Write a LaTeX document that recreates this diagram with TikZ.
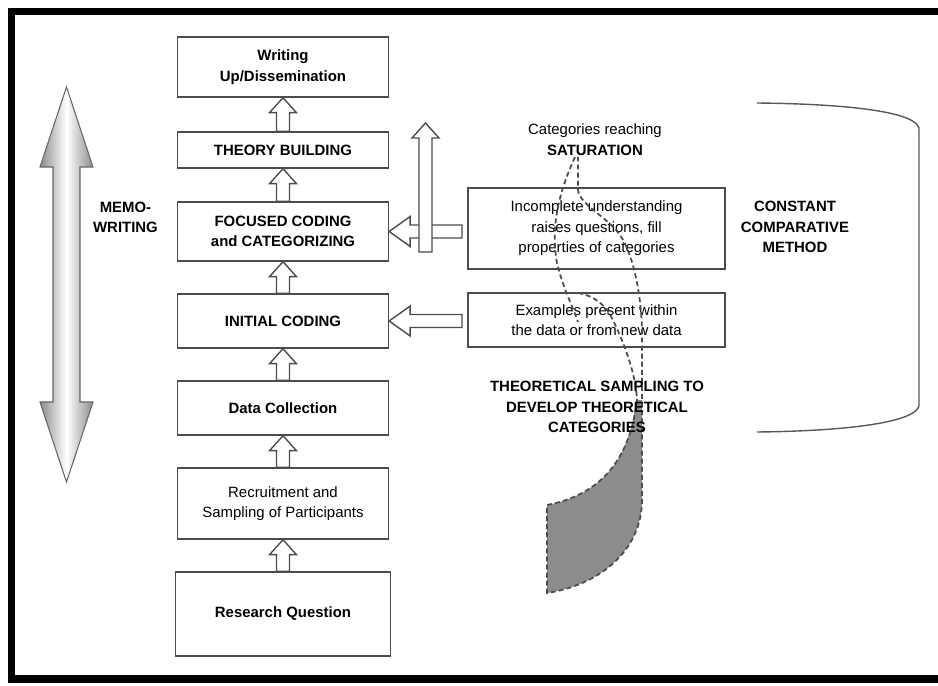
\documentclass[tikz,border=0pt]{standalone}
\usepackage{fontspec}
\setmainfont{Liberation Sans}
\usetikzlibrary{calc}

\newcommand{\boxfont}{\fontsize{8.5}{11.6}\selectfont}

\tikzset{
  stage/.style={draw=black!70, line width=0.8pt, minimum width=4.22cm, align=center, inner sep=2pt, font=\boxfont\bfseries},
  note/.style={align=center, inner sep=1pt, font=\boxfont},
  hollow/.style={draw=black!70, line width=0.8pt, fill=white},
  ribbon/.style={black!70, line width=1pt, dash pattern=on 2.8pt off 1.8pt},
}

% hollow block arrow pointing up, from #1 (foot) to #2 (tip)
\newcommand{\blockup}[2]{%
  \draw[hollow] ($(#1)+(-0.13cm,0cm)$) -- ($(#2)+(-0.13cm,-0.3cm)$) -- ($(#2)+(-0.27cm,-0.3cm)$)
    -- (#2) -- ($(#2)+(0.27cm,-0.3cm)$) -- ($(#2)+(0.13cm,-0.3cm)$) -- ($(#1)+(0.13cm,0cm)$) -- cycle;}
% hollow block arrow pointing left, from #1 (tail) to #2 (tip)
\newcommand{\blockleft}[2]{%
  \draw[hollow] ($(#1)+(0cm,0.13cm)$) -- ($(#2)+(0.42cm,0.13cm)$) -- ($(#2)+(0.42cm,0.3cm)$)
    -- (#2) -- ($(#2)+(0.42cm,-0.3cm)$) -- ($(#2)+(0.42cm,-0.13cm)$) -- ($(#1)+(0cm,-0.13cm)$) -- cycle;}

\begin{document}
\begin{tikzpicture}[x=0.02cm, y=-0.02cm]
    \useasboundingbox (0,0) rectangle (938,686);
    \def\xm{283}     % main column
    \def\xr{596.5}   % right column
    \def\xt{462}     % tails of the side arrows

    % frame
    \draw[line width=4.5pt] (938,11.5) -- (11.5,11.5) -- (11.5,679) -- (938,679);

    % memo-writing double arrow
    \shadedraw[left color=black!45, right color=black!45, middle color=white, draw=black!60, line width=0.6pt]
        (53,402) -- (53,167) -- (40,167) -- (66.5,87) -- (93,167) -- (80,167)
        -- (80,402) -- (93,402) -- (66.5,482) -- (40,402) -- cycle;
    \node[note, font=\boxfont\bfseries] (memo) at (125.5,217.5) {MEMO-\\WRITING};

    % main stages
    \node[stage, minimum height=1.2cm] (write) at (\xm,67) {Writing\\Up/Dissemination};
    \node[stage, minimum height=0.72cm] (theory) at (\xm,150) {THEORY BUILDING};
    \node[stage, minimum height=1.18cm] (focused) at (\xm,231.5) {FOCUSED CODING\\and CATEGORIZING};
    \node[stage, minimum height=1.08cm] (initial) at (\xm,321) {INITIAL CODING};
    \node[stage, minimum height=1.08cm] (collect) at (\xm,408) {Data Collection};
    \node[stage, minimum height=1.42cm, font=\boxfont] (recruit) at (\xm,503.5) {Recruitment and\\Sampling of Participants};
    \node[stage, minimum height=1.68cm, minimum width=4.3cm] (question) at (\xm,614) {Research Question};

    \blockup{theory.north}{write.south}
    \blockup{focused.north}{theory.south}
    \blockup{initial.north}{focused.south}
    \blockup{collect.north}{initial.south}
    \blockup{recruit.north}{collect.south}
    \blockup{question.north}{recruit.south}

    % right column
    \node[stage, font=\boxfont, minimum width=5.14cm, minimum height=1.62cm] (incomplete) at (\xr,228.5)
        {Incomplete understanding\\raises questions, fill\\properties of categories};
    \node[stage, font=\boxfont, minimum width=5.14cm, minimum height=1.08cm] (examples) at (\xr,320)
        {Examples present within\\the data or from new data};

    \coordinate (fc-tail) at (\xt,231.5);
    \coordinate (ic-tail) at (\xt,321);
    \blockleft{fc-tail}{focused.east}
    \blockleft{ic-tail}{initial.east}

    \coordinate (tb-foot) at (425.5,252);
    \coordinate (tb-tip) at (425.5,123);
    \blockup{tb-foot}{tb-tip}

    % constant comparative method bracket
    \draw[black!65, line width=0.8pt] (757,103) .. controls (850,104) and (915,112) .. (919,128)
        -- (919,406) .. controls (915,422) and (850,431) .. (757,432);

    % saturation ribbon
    \fill[black!45] (636,400) .. controls (630,460) and (600,495) .. (547,505) -- (547,593)
        .. controls (600,585) and (642,550) .. (642,500) -- (642,400) -- cycle;
    \draw[ribbon] (575,157) .. controls (560,190) and (550,225) .. (557,263)
        .. controls (562,285) and (572,305) .. (578,322);
    \draw[ribbon] (578,293) .. controls (595,296) and (605,305) .. (612,318)
        .. controls (625,345) and (636,375) .. (637,400)
        .. controls (630,460) and (600,495) .. (547,505) -- (547,593)
        .. controls (600,585) and (642,550) .. (642,500) -- (642,330)
        .. controls (641,290) and (632,252) .. (620,235)
        .. controls (605,215) and (580,205) .. (578,190) -- (578,157);

    \node[note] (satur) at (595,139.5) {Categories reaching\\\textbf{SATURATION}};
    \node[note, font=\boxfont\bfseries] (ccm) at (795,227) {CONSTANT\\COMPARATIVE\\METHOD};
    \node[note, font=\boxfont\bfseries] (theosamp) at (597,407) {THEORETICAL SAMPLING TO\\DEVELOP THEORETICAL\\CATEGORIES};

\end{tikzpicture}
\end{document}
